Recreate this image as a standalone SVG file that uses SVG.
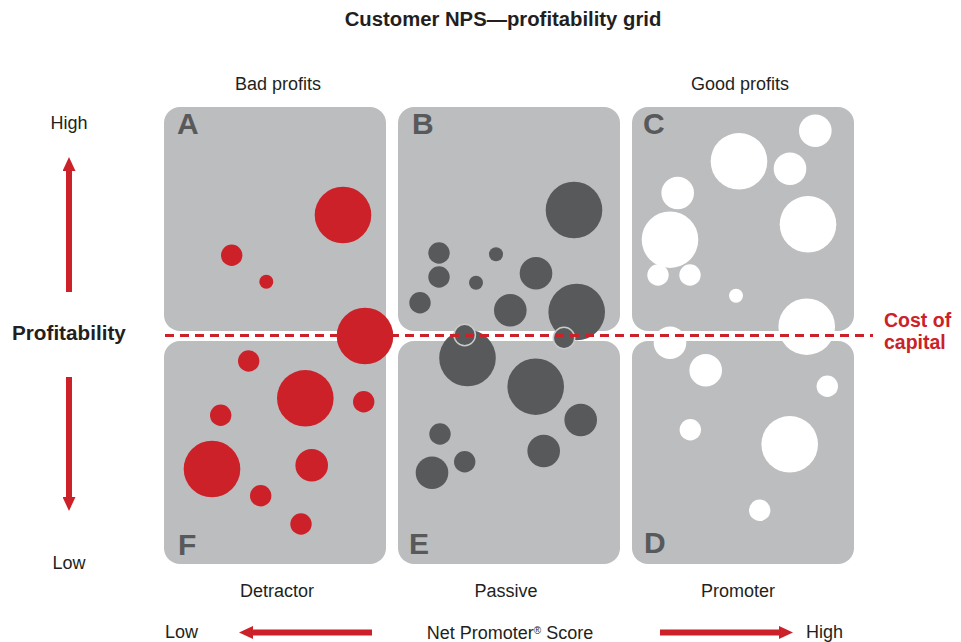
<svg xmlns="http://www.w3.org/2000/svg" width="961" height="642" viewBox="0 0 961 642">
<style>
.panel{fill:#BCBDBF}
.red{fill:#CC2128}
.dark{fill:#58595B}
.white{fill:#FFFFFF}
.ring{fill:#58595B;stroke:#C9CACC;stroke-width:1.5}
.letter{font-family:"Liberation Sans",Arial,sans-serif;font-weight:bold;font-size:30px;fill:#58595B}
.lbl{font-family:"Liberation Sans",Arial,sans-serif;font-size:18px;fill:#231F20}
.bold{font-family:"Liberation Sans",Arial,sans-serif;font-weight:bold;fill:#231F20}
.redtxt{font-family:"Liberation Sans",Arial,sans-serif;font-weight:bold;font-size:19.5px;fill:#CC2128}
.arrow{stroke:#CC2128;stroke-width:6;fill:none}
.dash{stroke:#CC2128;stroke-width:3;stroke-dasharray:9 6;fill:none}
</style>
<defs>
<marker id="head" viewBox="0 0 14 13" refX="0" refY="6.5" markerWidth="14" markerHeight="13" markerUnits="userSpaceOnUse" orient="auto">
<path d="M0,0 L14,6.5 L0,13 z" fill="#CC2128"/>
</marker>
</defs>
<rect width="961" height="642" fill="#FFFFFF"/>

<text class="bold" x="503" y="26" font-size="20.3" text-anchor="middle">Customer NPS—profitability grid</text>
<text class="lbl" x="278" y="90" text-anchor="middle">Bad profits</text>
<text class="lbl" x="740" y="90" text-anchor="middle">Good profits</text>
<text class="lbl" x="69" y="129" text-anchor="middle">High</text>
<text class="bold" x="12" y="340" font-size="20.7">Profitability</text>
<text class="lbl" x="69" y="569" text-anchor="middle">Low</text>
<text class="lbl" x="277" y="597" text-anchor="middle">Detractor</text>
<text class="lbl" x="506" y="597" text-anchor="middle">Passive</text>
<text class="lbl" x="738" y="597" text-anchor="middle">Promoter</text>
<text class="lbl" x="165" y="638">Low</text>
<text class="lbl" x="510" y="639" text-anchor="middle" font-size="17">Net Promoter<tspan font-size="10" baseline-shift="super">®</tspan> Score</text>
<text class="lbl" x="806" y="638">High</text>
<text class="redtxt" x="884" y="327">Cost of</text>
<text class="redtxt" x="884" y="349">capital</text>

<g id="panel-A">
<rect class="panel" x="164" y="107" width="222" height="224" rx="16"/>
<text class="letter" x="177" y="134">A</text>
<circle class="red" cx="343" cy="215" r="28.3"/>
<circle class="red" cx="231.7" cy="255.3" r="10.7"/>
<circle class="red" cx="266.3" cy="281.7" r="7"/>
</g>
<g id="panel-B">
<rect class="panel" x="398" y="107" width="222" height="224" rx="16"/>
<text class="letter" x="412" y="134">B</text>
<circle class="dark" cx="574" cy="210" r="28.3"/>
<circle class="dark" cx="439" cy="253" r="10.7"/>
<circle class="dark" cx="439" cy="277" r="10.7"/>
<circle class="dark" cx="496" cy="254.3" r="7"/>
<circle class="dark" cx="476" cy="282.7" r="7"/>
<circle class="dark" cx="420" cy="302.7" r="10.7"/>
<circle class="dark" cx="536" cy="273.3" r="16.3"/>
<circle class="dark" cx="510.3" cy="310.3" r="16.3"/>
</g>
<g id="panel-C">
<rect class="panel" x="632" y="107" width="222" height="224" rx="16"/>
<text class="letter" x="643" y="134">C</text>
<circle class="white" cx="815.3" cy="130.7" r="16.3"/>
<circle class="white" cx="739" cy="161.3" r="28.3"/>
<circle class="white" cx="790" cy="168.7" r="16.3"/>
<circle class="white" cx="677.7" cy="193" r="16.3"/>
<circle class="white" cx="808" cy="224.3" r="28.3"/>
<circle class="white" cx="670" cy="239.7" r="28.3"/>
<circle class="white" cx="658" cy="275" r="10.7"/>
<circle class="white" cx="690" cy="275" r="10.7"/>
<circle class="white" cx="736" cy="295.7" r="7"/>
</g>
<g id="panel-F">
<rect class="panel" x="164" y="341" width="222" height="223" rx="16"/>
<text class="letter" x="178" y="555">F</text>
<circle class="red" cx="248.7" cy="361" r="10.7"/>
<circle class="red" cx="305.3" cy="398.3" r="28.3"/>
<circle class="red" cx="363.7" cy="401.7" r="10.7"/>
<circle class="red" cx="220.7" cy="415.3" r="10.7"/>
<circle class="red" cx="212" cy="469" r="28.3"/>
<circle class="red" cx="311.7" cy="465.3" r="16.3"/>
<circle class="red" cx="260.7" cy="495.7" r="10.7"/>
<circle class="red" cx="301" cy="524" r="10.7"/>
</g>
<g id="panel-E">
<rect class="panel" x="398" y="341" width="222" height="223" rx="16"/>
<text class="letter" x="409" y="554">E</text>
<circle class="dark" cx="535.7" cy="386.7" r="28.3"/>
<circle class="dark" cx="580.7" cy="420" r="16.3"/>
<circle class="dark" cx="543.7" cy="451" r="16.3"/>
<circle class="dark" cx="440" cy="434" r="10.7"/>
<circle class="dark" cx="464.7" cy="461.7" r="10.7"/>
<circle class="dark" cx="432" cy="472.7" r="16.3"/>
</g>
<g id="panel-D">
<rect class="panel" x="632" y="341" width="222" height="223" rx="16"/>
<text class="letter" x="644" y="553">D</text>
<circle class="white" cx="705.7" cy="370.3" r="16.3"/>
<circle class="white" cx="827.3" cy="386.3" r="10.7"/>
<circle class="white" cx="690.3" cy="429.7" r="10.7"/>
<circle class="white" cx="789.7" cy="444.3" r="28.3"/>
<circle class="white" cx="759.7" cy="510.3" r="10.7"/>
</g>
<g id="boundary-circles">
<circle class="red" cx="365" cy="336" r="28.3"/>
<circle class="dark" cx="467.5" cy="358" r="28.3"/>
<circle class="ring" cx="464.7" cy="335" r="10.7"/>
<circle class="dark" cx="576.7" cy="312" r="28.3"/>
<circle class="ring" cx="564" cy="338" r="10.7"/>
<circle class="white" cx="806.7" cy="326.7" r="28.3"/>
<circle class="white" cx="670" cy="342.7" r="16.3"/>
</g>

<g id="connectors">
<line class="dash" x1="165" y1="335.5" x2="873" y2="335.5"/>
<line class="arrow" x1="69" y1="292" x2="69" y2="171" marker-end="url(#head)"/>
<line class="arrow" x1="69" y1="377" x2="69" y2="497" marker-end="url(#head)"/>
<line class="arrow" x1="372" y1="632.5" x2="253" y2="632.5" marker-end="url(#head)"/>
<line class="arrow" x1="660" y1="632.5" x2="779" y2="632.5" marker-end="url(#head)"/>
</g>
</svg>
